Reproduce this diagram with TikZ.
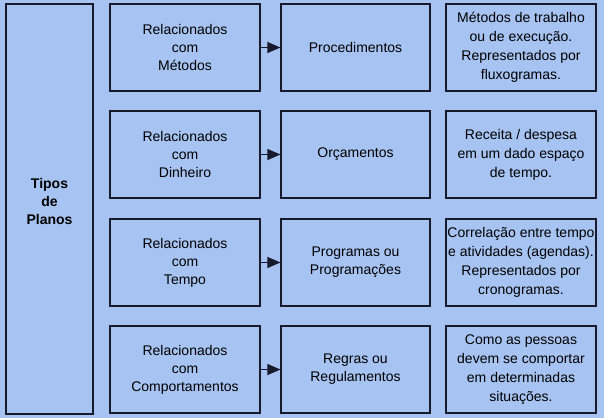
\documentclass[tikz,border=0pt]{standalone}
\usepackage{fontspec}
\setmainfont{Liberation Sans}
\usetikzlibrary{arrows.meta}
\definecolor{bgblue}{RGB}{166,195,242}
\definecolor{edge}{RGB}{22,26,44}
\tikzset{
  box/.style={draw=edge, line width=1.2pt, fill=bgblue, inner sep=0pt,
    minimum height=87pt, align=center, text=black,
    font=\fontsize{14}{18}\selectfont},
  wbox/.style={box, minimum width=150pt},
  cbox/.style={box, minimum width=149pt},
  dbox/.style={box, minimum width=150pt, font=\fontsize{14}{19}\selectfont},
  conn/.style={draw=edge, line width=1.2pt, -{Triangle[length=13pt,width=11pt]}}
}
\begin{document}
\begin{tikzpicture}[x=1pt,y=-1pt]
\fill[bgblue] (0,0) rectangle (604,418);
\useasboundingbox (0,0) rectangle (604,418);
% left box
\node[draw=edge, line width=1.2pt, fill=bgblue, minimum width=87pt, minimum height=410pt, inner sep=0pt] (tipos) at (49.5,209) {};
\node[font=\bfseries\fontsize{14}{18}\selectfont, align=center, inner sep=0pt] (tiposlbl) at (49.5,201) {Tipos\\de\\Planos};
% row 1
\node[wbox] (r1) at (185,47.5) {Relacionados\\com\\Métodos};
\node[cbox] (p1) at (355.5,47.5) {Procedimentos};
\node[dbox] (d1) at (521,47.5) {\raisebox{3pt}{\begin{tabular}{@{}c@{}}Métodos de trabalho\\ou de execução.\\Representados por\\fluxogramas.\end{tabular}}};
% row 2
\node[wbox] (r2) at (185,154.5) {Relacionados\\com\\Dinheiro};
\node[cbox] (p2) at (355.5,154.5) {Orçamentos};
\node[dbox] (d2) at (521,154.5) {Receita / despesa\\em um dado espaço\\de tempo.};
% row 3
\node[wbox] (r3) at (185,262.5) {Relacionados\\com\\Tempo};
\node[cbox] (p3) at (355.5,262.5) {Programas ou\\Programações};
\node[dbox] (d3) at (521,262.5) {Correlação entre tempo\\e atividades (agendas).\\Representados por\\cronogramas.};
% row 4
\node[wbox] (r4) at (185,369.5) {Relacionados\\com\\Comportamentos};
\node[cbox] (p4) at (355.5,369.5) {Regras ou\\Regulamentos};
\node[dbox] (d4) at (521,369.5) {Como as pessoas\\devem se comportar\\em determinadas\\situações.};
% connectors
\draw[conn] (r1.east) -- (p1.west);
\draw[conn] (r2.east) -- (p2.west);
\draw[conn] (r3.east) -- (p3.west);
\draw[conn] (r4.east) -- (p4.west);
\end{tikzpicture}
\end{document}
